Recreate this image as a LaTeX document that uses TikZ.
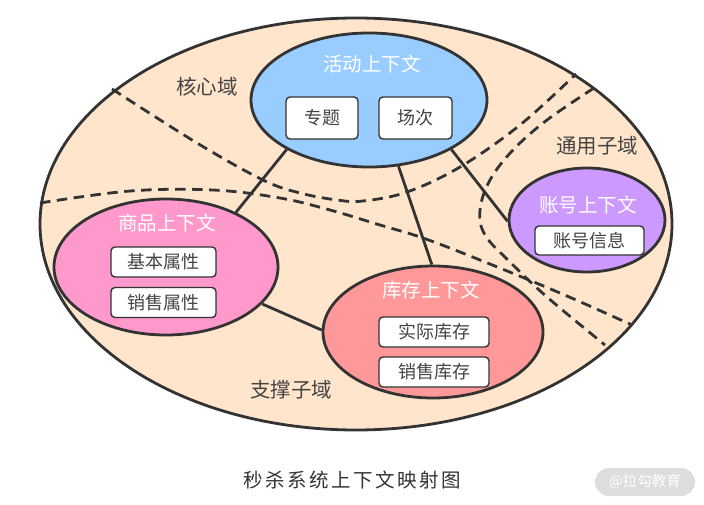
\documentclass[tikz,border=0pt]{standalone}
\usepackage{fontspec}
\setmainfont{Noto Sans CJK SC}
\usetikzlibrary{shapes.geometric}
\definecolor{domfill}{HTML}{FFE5CC}
\definecolor{actfill}{HTML}{99CCFF}
\definecolor{goodsfill}{HTML}{FF99CC}
\definecolor{invfill}{HTML}{FF9999}
\definecolor{accfill}{HTML}{CC99FF}
\definecolor{ink}{HTML}{333333}
\definecolor{boxtext}{HTML}{444444}
\definecolor{wmfill}{HTML}{DDDDDD}
\begin{document}
\begin{tikzpicture}[x=1pt,y=-1pt,
  ctx/.style={ellipse, draw=ink, line width=2.8pt, inner sep=0pt},
  itembox/.style={rectangle, rounded corners=4pt, draw=ink, line width=1.4pt, fill=white,
    text=boxtext, inner sep=0pt, font=\fontsize{18}{20}\selectfont},
  ttl/.style={text=white, inner sep=0pt, font=\fontsize{19.5}{21}\selectfont},
  lbl/.style={text=boxtext, inner sep=0pt, font=\fontsize{20.5}{22}\selectfont},
  conn/.style={draw=ink, line width=2.8pt},
  bound/.style={draw=ink, line width=2.8pt, dash pattern=on 10.5pt off 6.5pt}]
\useasboundingbox (0,0) rectangle (704,505);
% outer domain
\node[ctx, fill=domfill, minimum width=632pt, minimum height=412pt] (dom) at (356,224) {};
% dashed boundaries
\draw[bound] plot[smooth, tension=0.6] coordinates {(112,89) (197,143) (263,180) (300,193) (337,200) (363,201) (407,192) (460,167) (520,125) (576,74)};
\draw[bound] plot[smooth, tension=0.6] coordinates {(40,203) (130,191) (213,190) (280,198) (330,210) (380,225) (423,238) (480,260) (560,293) (632,325)};
\draw[bound] plot[smooth, tension=0.6] coordinates {(594,88) (547,120) (513,150) (490,180) (480,210) (485,235) (510,262) (547,297) (605,345)};
% contexts
\node[ctx, fill=actfill, minimum width=236pt, minimum height=134pt] (act) at (369,100) {};
\node[ctx, fill=goodsfill, minimum width=224pt, minimum height=136pt] (goods) at (166,267) {};
\node[ctx, fill=invfill, minimum width=220pt, minimum height=132pt] (inv) at (433,332) {};
\node[ctx, fill=accfill, minimum width=156pt, minimum height=104pt] (acc) at (587,220) {};
% connectors
\draw[conn] (act.211) -- (goods.38.6);
\draw[conn] (act.294) -- (inv.91);
\draw[conn] (act.329) -- (acc.181.5);
\draw[conn] (goods.339.4) -- (inv.179);
% titles
\node[ttl] (actT) at (372,64) {活动上下文};
\node[ttl] (goodsT) at (167,223) {商品上下文};
\node[ttl] (invT) at (431,290) {库存上下文};
\node[ttl] (accT) at (588,205) {账号上下文};
% items
\node[itembox, minimum width=72pt, minimum height=42pt] (zt) at (322,118) {专题};
\node[itembox, minimum width=73pt, minimum height=42pt] (cc) at (415.5,118) {场次};
\node[itembox, minimum width=105pt, minimum height=30pt] (jb) at (163.5,262) {基本属性};
\node[itembox, minimum width=105pt, minimum height=30pt] (xs) at (163.5,302.5) {销售属性};
\node[itembox, minimum width=110pt, minimum height=30pt] (sj) at (434,332) {实际库存};
\node[itembox, minimum width=110pt, minimum height=30pt] (xk) at (434,372) {销售库存};
\node[itembox, minimum width=109pt, minimum height=29pt] (zh) at (589.5,240.5) {账号信息};
% domain labels
\node[lbl] (core) at (207,87) {核心域};
\node[lbl] (gen) at (597,146) {通用子域};
\node[lbl] (sup) at (291,390) {支撑子域};
% caption
\node[text=ink, inner sep=0pt, font=\fontsize{19.5}{21}\selectfont] (cap) at (352,480)
  {秒\hspace{2.5pt}杀\hspace{2.5pt}系\hspace{2.5pt}统\hspace{2.5pt}上\hspace{2.5pt}下\hspace{2.5pt}文\hspace{2.5pt}映\hspace{2.5pt}射\hspace{2.5pt}图};
% watermark
\node[rectangle, rounded corners=14pt, fill=wmfill, minimum width=100pt, minimum height=28pt,
  text=white, inner sep=0pt, font=\fontsize{14.5}{16}\selectfont] (wm) at (645,482) {@拉勾教育};
\end{tikzpicture}
\end{document}
